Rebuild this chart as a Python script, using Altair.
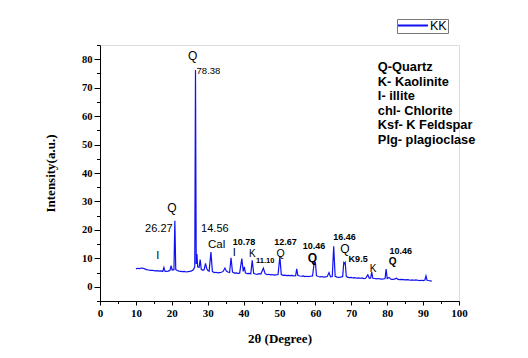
import altair as alt
import pandas as pd

two_theta = [
    10.0, 10.5, 11.0, 11.5, 12.0, 12.5, 13.0, 13.5, 14.0, 14.5, 15.0, 15.5, 16.0, 16.5, 17.0, 17.5,
    17.8, 18.1, 18.5, 19.0, 19.5, 19.8, 20.1, 20.6, 20.85, 21.1, 21.5, 22.0, 22.5, 23.0, 23.5, 24.0,
    24.5, 25.0, 25.5, 26.0, 26.4, 26.6, 26.8, 27.0, 27.2, 27.6, 27.9, 28.2, 28.6, 29.0, 29.4, 29.7,
    30.0, 30.4, 30.9, 31.3, 31.8, 32.3, 32.8, 33.3, 33.8, 34.3, 34.8, 35.2, 35.6, 36.1, 36.5, 36.9,
    37.4, 37.9, 38.4, 38.9, 39.5, 39.9, 40.2, 40.5, 41.0, 41.5, 42.0, 42.4, 42.8, 43.3, 43.8, 44.3,
    44.8, 45.5, 46.0, 46.5, 47.0, 47.5, 48.0, 48.5, 49.0, 49.6, 50.1, 50.5, 51.0, 51.5, 52.0, 52.5,
    53.0, 53.5, 54.0, 54.5, 54.8, 55.1, 55.6, 56.1, 56.6, 57.1, 57.6, 58.1, 58.6, 59.2, 59.7, 60.0,
    60.3, 60.8, 61.3, 61.8, 62.3, 62.8, 63.3, 63.8, 64.2, 64.7, 65.1, 65.5, 66.0, 66.5, 67.0, 67.6,
    67.9, 68.1, 68.3, 68.6, 69.0, 69.5, 70.0, 70.5, 71.0, 71.5, 72.0, 72.5, 73.0, 73.5, 74.0, 74.6,
    75.0, 75.4, 75.7, 76.0, 76.5, 77.0, 77.5, 78.0, 78.5, 79.0, 79.4, 79.7, 80.0, 80.5, 81.0, 81.5,
    82.0, 82.6, 83.0, 83.5, 84.0, 84.5, 85.0, 85.5, 86.0, 86.5, 87.0, 87.5, 88.0, 88.5, 89.0, 89.5,
    90.0, 90.5, 90.8, 91.1, 91.5, 92.0, 92.4,
]
intensity = [
    6.3, 6.5, 6.4, 6.6, 6.5, 6.3, 6.0, 5.9, 5.8, 5.8, 5.7, 5.6, 5.7, 5.5, 5.6, 5.4,
    6.8, 5.5, 5.4, 5.5, 5.8, 7.4, 5.9, 6.0, 23.2, 6.1, 5.7, 5.5, 5.4, 5.3, 5.4, 5.2,
    5.3, 5.4, 5.6, 6.0, 7.0, 76.2, 8.0, 11.5, 7.0, 6.8, 9.6, 6.2, 5.8, 6.0, 8.2, 6.5,
    5.8, 5.5, 12.2, 5.4, 5.0, 5.1, 4.9, 5.0, 5.1, 5.4, 6.6, 5.5, 5.2, 5.0, 10.2, 5.2,
    4.8, 4.9, 4.7, 4.8, 9.9, 5.4, 7.0, 4.9, 4.6, 4.7, 4.6, 9.3, 4.7, 4.5, 4.4, 4.6,
    4.5, 6.5, 4.6, 4.3, 4.4, 4.2, 4.3, 4.1, 4.2, 4.3, 10.6, 4.3, 4.0, 4.1, 3.9, 4.0,
    3.9, 4.0, 3.8, 3.9, 6.3, 4.0, 3.8, 3.7, 3.8, 3.6, 3.7, 3.6, 3.7, 3.8, 8.8, 8.6,
    3.9, 3.6, 3.5, 3.6, 3.4, 3.5, 3.6, 5.0, 3.5, 3.6, 14.2, 3.7, 3.4, 3.3, 3.4, 3.6,
    8.5, 8.2, 8.6, 3.7, 3.3, 3.2, 3.3, 3.1, 3.2, 3.0, 3.1, 3.0, 3.1, 2.9, 3.0, 4.2,
    3.0, 3.1, 5.2, 3.0, 2.9, 2.8, 2.9, 2.8, 2.7, 2.8, 2.9, 6.2, 2.9, 3.3, 2.7, 2.6,
    2.7, 3.0, 2.6, 2.5, 2.6, 2.5, 2.4, 2.5, 2.4, 2.3, 2.4, 2.3, 2.4, 2.3, 2.2, 2.3,
    2.2, 2.4, 3.8, 2.3, 2.2, 2.1, 2.0,
]
series_name = ["KK"] * len(two_theta)

# peak annotations
ann_text = ["Q", "78.38", "Q", "26.27", "14.56", "Cal", "I", "I", "K", "Q", "Q", "K"]
ann_x = [25.8, 26.9, 20.0, 16.4, 32.0, 32.5, 37.4, 16.1, 42.4, 50.3, 68.2, 76.1]
ann_y = [81.3, 75.8, 27.6, 20.2, 20.2, 14.7, 11.8, 10.9, 11.5, 11.5, 13.3, 6.3]
ann_size = [12, 9.5, 12, 11, 11, 11.5, 11, 11, 10, 10.5, 12, 10]
ann_align = ["center", "left", "center", "center", "center", "center", "center",
             "center", "center", "center", "center", "center"]

bold_text = ["10.78", "11.10", "12.67", "10.46", "Q", "16.46", "K9.5", "10.46", "Q"]
bold_x = [40.1, 46.0, 51.7, 59.6, 59.2, 68.1, 71.9, 83.8, 81.5]
bold_y = [15.6, 9.2, 15.6, 14.3, 10.0, 17.4, 9.7, 12.7, 8.6]
bold_size = [9, 7.5, 9, 9, 12, 9, 9, 9, 10]

key_lines = ["Q-Quartz", "K- Kaolinite", "I- illite", "chl- Chlorite",
             "Ksf- K Feldspar", "Plg- plagioclase"]
key_x = [77.4]
key_y = [79.4]

x_major = list(range(0, 101, 10))
x_minor = list(range(5, 100, 10))
y_major = list(range(0, 81, 10))
y_minor = list(range(-5, 86, 10))

df = pd.DataFrame({"theta": two_theta, "I": intensity, "series": series_name})
ann = pd.DataFrame({"t": ann_text, "x": ann_x, "y": ann_y, "s": ann_size, "a": ann_align})
ann_c = ann[ann.a == "center"]
ann_l = ann[ann.a == "left"]
bold = pd.DataFrame({"t": bold_text, "x": bold_x, "y": bold_y, "s": bold_size})
key = pd.DataFrame({"t": ["\n".join(key_lines)], "x": key_x, "y": key_y})

serif = "Liberation Serif"
sans = "Liberation Sans"

xscale = alt.Scale(domain=[0, 100], nice=False, zero=False)
yscale = alt.Scale(domain=[-5, 85], nice=False, zero=False)

xaxis = alt.Axis(
    values=x_major, tickCount=50, orient="bottom",
    title="2θ (Degree)", titleFont=serif, titleFontSize=13, titleFontWeight="bold",
    labelFont=serif, labelFontSize=11, labelFontWeight="bold", labelColor="black",
    titleColor="black", grid=False, tickSize=4, tickColor="black", domainColor="black",
    labelPadding=2, titleY=37, titleBaseline="middle", labelFlush=False,
    labelOverlap=False,
)
yaxis = alt.Axis(
    values=y_major, tickCount=50, orient="left",
    title="Intensity(a.u.)", titleFont=serif, titleFontSize=13, titleFontWeight="bold",
    labelFont=serif, labelFontSize=10.5, labelFontWeight="bold", labelColor="black",
    titleColor="black", grid=False, tickSize=6, tickColor="black", domainColor="black",
    labelPadding=2, titleX=-50, titleBaseline="middle", labelFlush=False,
    labelOverlap=False,
)
xaxis_minor = alt.Axis(
    values=x_minor, tickCount=50, orient="bottom", labels=False, title=None,
    domain=False, grid=False, tickSize=2.5, tickColor="black",
)
yaxis_minor = alt.Axis(
    values=y_minor, tickCount=50, orient="left", labels=False, title=None,
    domain=False, grid=False, tickSize=3.5, tickColor="black",
)

line = alt.Chart(df).mark_line(strokeWidth=1.2, clip=True).encode(
    x=alt.X("theta:Q", scale=xscale, axis=xaxis),
    y=alt.Y("I:Q", scale=yscale, axis=yaxis),
    color=alt.Color(
        "series:N",
        scale=alt.Scale(domain=["KK"], range=["#1010f0"]),
        legend=alt.Legend(
            title=None, orient="none", legendX=297, legendY=-26,
            symbolType="M-1,-0.06H1V0.06H-1Z", symbolSize=900, symbolStrokeWidth=0,
            symbolFillColor="#1010f0", clipHeight=11,
            labelFont=sans, labelFontSize=12.5, labelColor="black",
            strokeColor="#777777", padding=1, labelOffset=2,
        ),
    ),
)

minor = alt.Chart(df).mark_point(opacity=0).encode(
    x=alt.X("theta:Q", scale=xscale, axis=xaxis_minor),
    y=alt.Y("I:Q", scale=yscale, axis=yaxis_minor),
)

txt_c = alt.Chart(ann_c).mark_text(font=sans, color="black", align="center", baseline="middle").encode(
    x=alt.X("x:Q", scale=xscale, axis=None), y=alt.Y("y:Q", scale=yscale, axis=None), text="t:N",
    size=alt.Size("s:Q", scale=None),
)
txt_l = alt.Chart(ann_l).mark_text(font=sans, color="black", align="left", baseline="middle").encode(
    x=alt.X("x:Q", scale=xscale, axis=None), y=alt.Y("y:Q", scale=yscale, axis=None), text="t:N",
    size=alt.Size("s:Q", scale=None),
)
txt_b = alt.Chart(bold).mark_text(font=sans, fontWeight="bold", color="black",
                                  align="center", baseline="middle").encode(
    x=alt.X("x:Q", scale=xscale, axis=None), y=alt.Y("y:Q", scale=yscale, axis=None), text="t:N",
    size=alt.Size("s:Q", scale=None),
)
key_txt = alt.Chart(key).mark_text(font=sans, fontWeight="bold", fontSize=12.8, color="black",
                                   align="left", baseline="top", lineBreak="\n",
                                   lineHeight=14.6).encode(
    x=alt.X("x:Q", scale=xscale, axis=None), y=alt.Y("y:Q", scale=yscale, axis=None), text="t:N",
)

chart = alt.layer(line, minor, txt_c, txt_l, txt_b, key_txt).resolve_axis(
    x="independent", y="independent"
).properties(
    width=359, height=256,
    autosize=alt.AutoSizeParams(type="none"),
    padding={"left": 100, "top": 45, "right": 69, "bottom": 57},
).configure_view(stroke=None).configure(background="white")

chart.save("out.html", embed_options={"renderer": "svg", "actions": False})
